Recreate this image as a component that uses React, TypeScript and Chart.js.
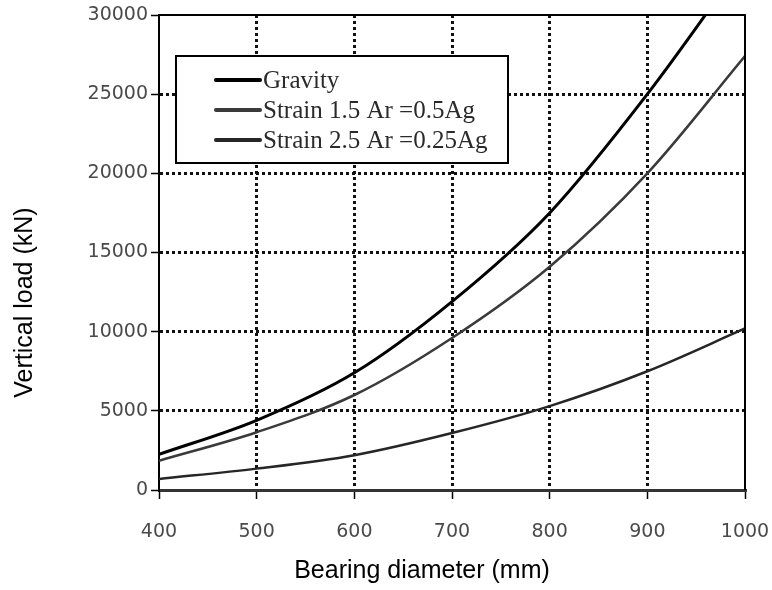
import React, { useEffect, useRef } from "react";
import { Chart, registerables } from "chart.js";

Chart.register(...registerables);

const diameters = [400, 500, 600, 700, 800, 900, 1000];
const gravity = [2250, 4400, 7400, 11900, 17500, 25000, 33500];
const strain15 = [1850, 3650, 6000, 9600, 14100, 20000, 27400];
const strain25 = [700, 1350, 2200, 3600, 5300, 7500, 10200];
const seriesLabels = ["Gravity", "Strain 1.5 Ar =0.5Ag", "Strain 2.5 Ar =0.25Ag"];
const xTitle = "Bearing diameter (mm)";
const yTitle = "Vertical load (kN)";

const toPoints = (ys: number[]) => diameters.map((x, i) => ({ x, y: ys[i] }));

export default function App() {
  const ref = useRef<HTMLCanvasElement | null>(null);

  useEffect(() => {
    if (!ref.current) return;

    const overlay = {
      id: "overlay",
      afterDatasetsDraw(chart: any) {
        const { ctx, chartArea } = chart;
        ctx.save();
        // frame top + right
        ctx.strokeStyle = "#000";
        ctx.lineWidth = 2;
        ctx.beginPath();
        ctx.moveTo(chartArea.left, chartArea.top);
        ctx.lineTo(chartArea.right, chartArea.top);
        ctx.lineTo(chartArea.right, chartArea.bottom);
        ctx.stroke();

        // legend box
        const bx = chartArea.left + 17;
        const by = chartArea.top + 41;
        const bw = 332;
        const bh = 107;
        ctx.fillStyle = "#fff";
        ctx.fillRect(bx, by, bw, bh);
        ctx.lineWidth = 2;
        ctx.strokeStyle = "#000";
        ctx.strokeRect(bx, by, bw, bh);
        ctx.font = "25px 'Liberation Serif', 'Times New Roman', serif";
        ctx.textBaseline = "middle";
        ctx.textAlign = "left";
        chart.data.datasets.forEach((ds: any, i: number) => {
          const yy = by + 24 + i * 30;
          ctx.strokeStyle = ds.borderColor;
          ctx.lineWidth = 4;
          ctx.lineCap = "round";
          ctx.beginPath();
          ctx.moveTo(bx + 40, yy);
          ctx.lineTo(bx + 84, yy);
          ctx.stroke();
          ctx.fillStyle = "#2a2a2a";
          ctx.fillText(ds.label, bx + 87, yy + 1);
        });

        // axis titles
        ctx.fillStyle = "#000";
        ctx.font = "25px 'Liberation Sans', Arial, sans-serif";
        ctx.textAlign = "center";
        ctx.textBaseline = "middle";
        ctx.fillText(xTitle, (chartArea.left + chartArea.right) / 2 - 30, chartArea.bottom + 81);
        ctx.translate(25, (chartArea.top + chartArea.bottom) / 2 + 50);
        ctx.rotate(-Math.PI / 2);
        ctx.fillText(yTitle, 0, 0);
        ctx.restore();
      },
    };

    const gridColor = (c: any) => {
      const n = c.scale && c.scale.ticks ? c.scale.ticks.length : 0;
      if (c.index === 0 || c.index === n - 1) return "rgba(0,0,0,0)";
      return "#111";
    };

    const chart = new Chart(ref.current, {
      type: "line",
      data: {
        datasets: [
          {
            label: seriesLabels[0],
            data: toPoints(gravity),
            borderColor: "#000",
            borderWidth: 3,
            pointRadius: 0,
            cubicInterpolationMode: "monotone",
          },
          {
            label: seriesLabels[1],
            data: toPoints(strain15),
            borderColor: "#3a3a3a",
            borderWidth: 2.5,
            pointRadius: 0,
            cubicInterpolationMode: "monotone",
          },
          {
            label: seriesLabels[2],
            data: toPoints(strain25),
            borderColor: "#262626",
            borderWidth: 2.5,
            pointRadius: 0,
            cubicInterpolationMode: "monotone",
          },
        ],
      },
      plugins: [overlay],
      options: {
        responsive: false,
        animation: false,
        layout: { padding: { left: 0, top: 15, right: 27, bottom: 0 } },
        plugins: {
          legend: { display: false },
          tooltip: { enabled: false },
        },
        scales: {
          x: {
            type: "linear",
            min: 400,
            max: 1000,
            afterFit: (s: any) => {
              s.height = 100;
              s.paddingLeft = 0;
              s.paddingRight = 0;
            },
            ticks: {
              stepSize: 100,
              padding: 22,
              color: "#4a4a4a",
              font: { family: "'DejaVu Sans', sans-serif", size: 19 },
              callback: (v: any) => String(v),
              maxRotation: 0,
            },
            grid: {
              color: gridColor,
              lineWidth: 3,
              tickLength: 9,
              tickColor: "#000",
              tickWidth: 1.5,
              tickBorderDash: [],
            },
            border: { display: true, color: "#333", width: 3, dash: [3, 3] },
          },
          y: {
            type: "linear",
            min: 0,
            max: 30000,
            afterFit: (s: any) => {
              s.width = 159;
              s.paddingTop = 0;
              s.paddingBottom = 0;
            },
            ticks: {
              stepSize: 5000,
              padding: 3,
              color: "#4a4a4a",
              font: { family: "'DejaVu Sans', sans-serif", size: 19 },
              callback: (v: any) => String(v),
            },
            grid: {
              color: gridColor,
              lineWidth: 3,
              tickLength: 8,
              tickColor: "#000",
              tickWidth: 1.5,
              tickBorderDash: [],
            },
            border: { display: true, color: "#000", width: 2, dash: [3, 3] },
          },
        },
      },
    });

    return () => chart.destroy();
  }, []);

  return (
    <div style={{ position: "fixed", left: 0, top: 0, width: 772, height: 590, background: "#fff" }}>
      <canvas ref={ref} width={772} height={590} style={{ width: 772, height: 590, display: "block" }} />
    </div>
  );
}
